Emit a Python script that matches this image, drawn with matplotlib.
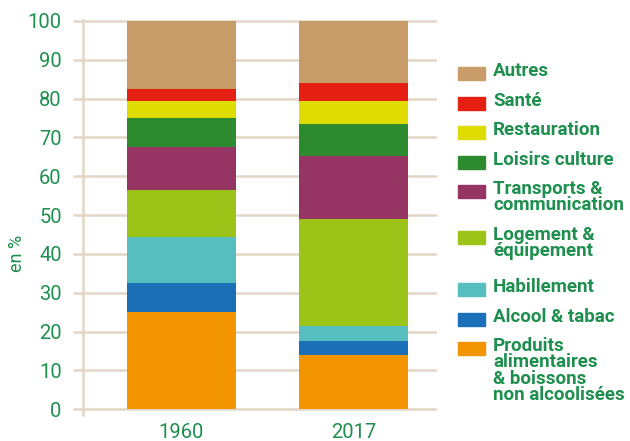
import numpy as np
import matplotlib.pyplot as plt
from matplotlib.patches import Rectangle

plt.rcParams['font.family'] = ['Roboto', 'DejaVu Sans']

years = ['1960', '2017']
categories = ['Produits\nalimentaires\n& boissons\nnon alcoolisées', 'Alcool & tabac', 'Habillement',
              'Logement &\néquipement', 'Transports &\ncommunication', 'Loisirs culture',
              'Restauration', 'Santé', 'Autres']
v1960 = [25.1, 7.4, 11.9, 12.1, 11.0, 7.5, 4.4, 3.1, 17.5]
v2017 = [14.0, 3.6, 3.9, 27.5, 16.3, 8.2, 5.9, 4.6, 16.0]
colors = ['#F39500', '#1B6FB6', '#56BEBE', '#9CC318', '#963564',
          '#2D8A2E', '#DEDC00', '#E32012', '#C89C68']

green = '#1E8F4E'
beige = '#E2D6C6'

fig = plt.figure(figsize=(6.3, 4.41), dpi=100)
ax = fig.add_axes([0.131, 0.059, 0.563, 0.896])

vals = np.array([v1960, v2017])
x = np.arange(len(years))
bottom = np.zeros(len(years))
for i, c in enumerate(colors):
    ax.bar(x, vals[:, i], bottom=bottom, width=0.634, color=c, zorder=3)
    bottom += vals[:, i]

ax.set_xlim(-0.574, 1.485)
ax.set_ylim(-1.47, 100.26)
ax.set_yticks(range(0, 101, 10))
ax.set_xticks(x)
ax.set_xticklabels(years)
ax.grid(axis='y', color=beige, lw=1.8, zorder=0)
for s in ['top', 'right', 'bottom']:
    ax.spines[s].set_visible(False)
ax.spines['left'].set_color(beige)
ax.spines['left'].set_linewidth(1.8)
ax.tick_params(axis='y', colors=beige, length=7, width=1.8, pad=8, labelcolor=green, labelsize=14.5)
ax.tick_params(axis='x', length=0, pad=6, labelcolor=green, labelsize=14.5)
ax.set_ylabel('en %', color=green, fontsize=13)
ax.yaxis.set_label_coords(-0.16, 0.41)

# legend, top entry first
lx, ly = 457.7 / 630, [73, 103, 132, 162, 191, 237, 289, 319, 348]
order = list(range(len(categories)))[::-1]
for k, i in enumerate(order):
    yc = 1 - ly[k] / 441
    fig.patches.append(Rectangle((lx, yc - 6.5 / 441), 27 / 630, 13 / 441,
                                 transform=fig.transFigure, color=colors[i]))
    fig.text(493 / 630, yc + 11 / 441, categories[i], color=green, fontsize=13.5,
             fontweight='bold', va='top', ha='left', linespacing=0.88)

fig.savefig('out.png', dpi=100)
